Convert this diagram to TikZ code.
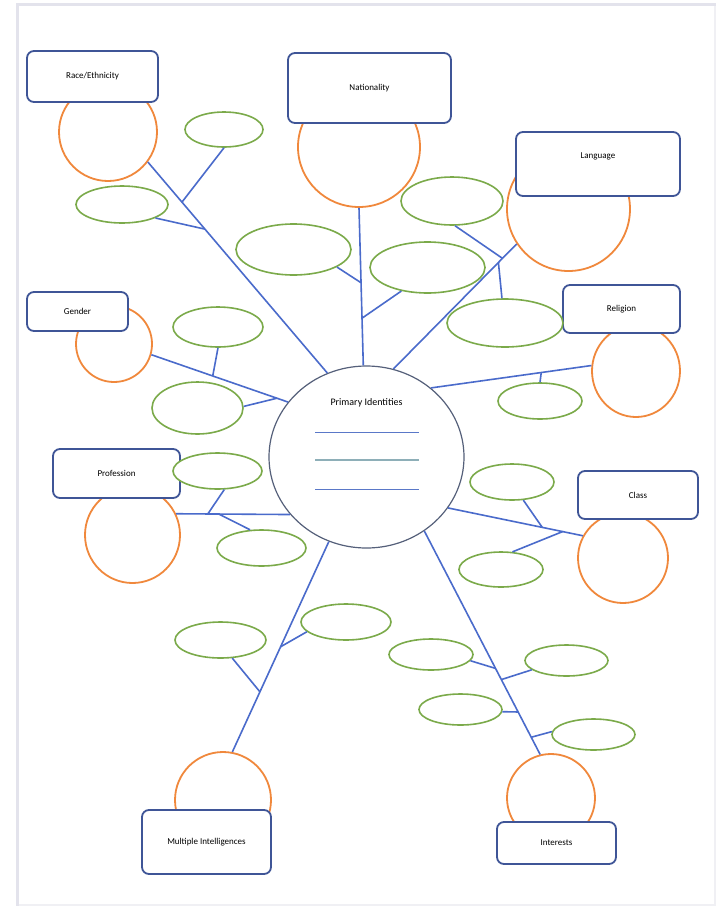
\documentclass[tikz,border=0pt]{standalone}
\usepackage{fontspec}
\setmainfont{Carlito}
\usetikzlibrary{shapes.geometric}
\definecolor{frameC}{HTML}{E3E3EC}
\definecolor{frameL}{HTML}{F0F0F4}
\definecolor{boxC}{HTML}{3F5597}
\definecolor{spokeC}{HTML}{4A6BCB}
\definecolor{orangeC}{HTML}{F0883C}
\definecolor{greenC}{HTML}{7BAA4A}
\definecolor{mainC}{HTML}{55607A}
\definecolor{lineA}{HTML}{5A78C8}
\definecolor{lineB}{HTML}{8EAFB8}
\begin{document}
\begin{tikzpicture}[x=1pt,y=-1pt,
  lbox/.style={draw=boxC, line width=1.8pt, rounded corners=7pt, fill=white, inner sep=0pt,
    font=\fontsize{9}{11}\selectfont},
  oc/.style={draw=orangeC, line width=1.8pt, ellipse, inner sep=0pt},
  ge/.style={draw=greenC, line width=1.6pt, ellipse, fill=white, inner sep=0pt},
  spoke/.style={draw=spokeC, line width=1.6pt},
  mc/.style={draw=mainC, line width=1.2pt, ellipse, fill=white, inner sep=0pt}]
\useasboundingbox (0,0) rectangle (716,906);
\fill[white] (0,0) rectangle (716,906);
% frame
\fill[frameC] (15.5,2.5) rectangle (716,6);
\fill[frameC] (15.5,2.5) rectangle (19,906);
\fill[frameL] (19,904) rectangle (716,906);
\fill[frameL] (714,6) rectangle (716,906);

% orange circles
\node[oc, minimum width=98pt, minimum height=98pt] (raceC) at (108,132) {};
\node[oc, minimum width=122pt, minimum height=120pt] (natC) at (359,147) {};
\node[oc, minimum width=123pt, minimum height=124pt] (langC) at (568.5,209) {};
\node[oc, minimum width=76pt, minimum height=76pt] (genderC) at (114,344) {};
\node[oc, minimum width=88pt, minimum height=92pt] (religC) at (636,371) {};
\node[oc, minimum width=95pt, minimum height=96pt] (profC) at (132.5,535) {};
\node[oc, minimum width=90pt, minimum height=90pt] (classC) at (623,558) {};
\node[oc, minimum width=96pt, minimum height=96pt] (miC) at (223,800) {};
\node[oc, minimum width=88pt, minimum height=88pt] (intC) at (551,798) {};

% boxes
\node[lbox, minimum width=131pt, minimum height=51pt] (race) at (92.5,76.5) {Race/Ethnicity};
\node[lbox, minimum width=163pt, minimum height=70pt] (nat) at (369.5,88) {Nationality};
\node[lbox, minimum width=164pt, minimum height=64pt,
  label={[font=\fontsize{9}{11}\selectfont, yshift=8pt]center:Language}] (lang) at (598,164) {};
\node[lbox, minimum width=101pt, minimum height=39pt] (gender) at (77.5,311.5) {Gender};
\node[lbox, minimum width=117pt, minimum height=48pt] (relig) at (621.5,309) {Religion};
\node[lbox, minimum width=127pt, minimum height=49pt] (prof) at (116.5,473.5) {Profession};
\node[lbox, minimum width=120pt, minimum height=48pt] (class) at (638,495) {Class};
\node[lbox, minimum width=129pt, minimum height=64pt] (mi) at (206.5,842) {Multiple Intelligences};
\node[lbox, minimum width=119pt, minimum height=42pt] (int) at (556.5,843) {Interests};

% green ellipses
\node[ge, minimum width=78pt, minimum height=35pt] (e1) at (224,129.5) {};
\node[ge, minimum width=92pt, minimum height=37pt] (e2) at (122,204.5) {};
\node[ge, minimum width=115pt, minimum height=51pt] (e3) at (293.5,249.5) {};
\node[ge, minimum width=102pt, minimum height=48pt] (e4) at (452,201) {};
\node[ge, minimum width=115pt, minimum height=51pt] (e5) at (427.5,267.5) {};
\node[ge, minimum width=116pt, minimum height=48pt] (e6) at (505,323) {};
\node[ge, minimum width=84pt, minimum height=36pt] (e7) at (540,401) {};
\node[ge, minimum width=84pt, minimum height=36pt] (e8) at (512,482) {};
\node[ge, minimum width=84pt, minimum height=35pt] (e9) at (501,569.5) {};
\node[ge, minimum width=90pt, minimum height=40pt] (e10) at (218,327) {};
\node[ge, minimum width=91pt, minimum height=52pt] (e11) at (197.5,408) {};
\node[ge, minimum width=89pt, minimum height=36pt] (e12) at (217.5,471) {};
\node[ge, minimum width=89pt, minimum height=36pt] (e13) at (261.5,548) {};
\node[ge, minimum width=91pt, minimum height=36pt] (e14) at (220.5,640) {};
\node[ge, minimum width=90pt, minimum height=36pt] (e15) at (346,622) {};
\node[ge, minimum width=84pt, minimum height=31pt] (e16) at (431,654.5) {};
\node[ge, minimum width=83pt, minimum height=31pt] (e17) at (566.5,660.5) {};
\node[ge, minimum width=83pt, minimum height=31pt] (e18) at (460.5,709.5) {};
\node[ge, minimum width=83pt, minimum height=31pt] (e19) at (593.5,734.5) {};

% main circle
\node[mc, minimum width=195pt, minimum height=182pt,
  label={[font=\fontsize{10}{12}\selectfont, yshift=54pt]center:Primary Identities}] (main) at (366.5,457) {};
\draw[lineA, line width=0.9pt] (315,432) -- (419,432);
\draw[lineB, line width=1.1pt] (315,460) -- (419,460);
\draw[lineA, line width=0.9pt] (315,489) -- (419,489);

% spokes
\draw[spoke] (raceC.-37.8) -- coordinate[pos=0.19] (jr1) coordinate[pos=0.318] (jr2) (main.115.2);
\draw[spoke] (natC.-90) -- coordinate[pos=0.475] (jn1) coordinate[pos=0.70] (jn2) (main.92.8);
\draw[spoke] (main.73.4) -- coordinate[pos=0.885] (jl1) coordinate[pos=0.852] (jl2) (langC.214.7);
\draw[spoke] (main.47.3) -- coordinate[pos=0.6875] (jg1) (religC.173.5);
\draw[spoke] (genderC.-16) -- coordinate[pos=0.449] (jd1) coordinate[pos=0.919] (jd2) (main.145);
\draw[spoke] (profC.26.3) -- coordinate[pos=0.278] (jp1) coordinate[pos=0.374] (jp2) (main.-143.3);
\draw[spoke] (main.-32.4) -- coordinate[pos=0.699] (jc1) coordinate[pos=0.85] (jc2) (classC.151.2);
\draw[spoke] (main.-114.4) -- coordinate[pos=0.5] (jm1) coordinate[pos=0.714] (jm2) (miC.79.4);
\draw[spoke] (main.-52.4) -- coordinate[pos=0.615] (ji1) coordinate[pos=0.665] (ji2)
  coordinate[pos=0.81] (ji3) coordinate[pos=0.923] (ji4) (intC.104);

% branches
\draw[spoke] (e1.-90) -- (jr1);
\draw[spoke] (e2.-22) -- (jr2);
\draw[spoke] (e3.-22.4) -- (jn1);
\draw[spoke] (e5.222.7) -- (jn2);
\draw[spoke] (e4.-83) -- (jl1);
\draw[spoke] (e6.97.4) -- (jl2);
\draw[spoke] (e7.90) -- (jg1);
\draw[spoke] (e10.-90) -- (jd1);
\draw[spoke] (e11.2.5) -- (jd2);
\draw[spoke] (e12.-70) -- (jp1);
\draw[spoke] (e13.122.6) -- (jp2);
\draw[spoke] (e8.-58) -- (jc1);
\draw[spoke] (e9.57.8) -- (jc2);
\draw[spoke] (e15.194) -- (jm1);
\draw[spoke] (e14.-57.4) -- (jm2);
\draw[spoke] (e16.-9.5) -- (ji1);
\draw[spoke] (e17.195.4) -- (ji2);
\draw[spoke] (e18.-3.4) -- (ji3);
\draw[spoke] (e19.176.5) -- (ji4);
\end{tikzpicture}
\end{document}
